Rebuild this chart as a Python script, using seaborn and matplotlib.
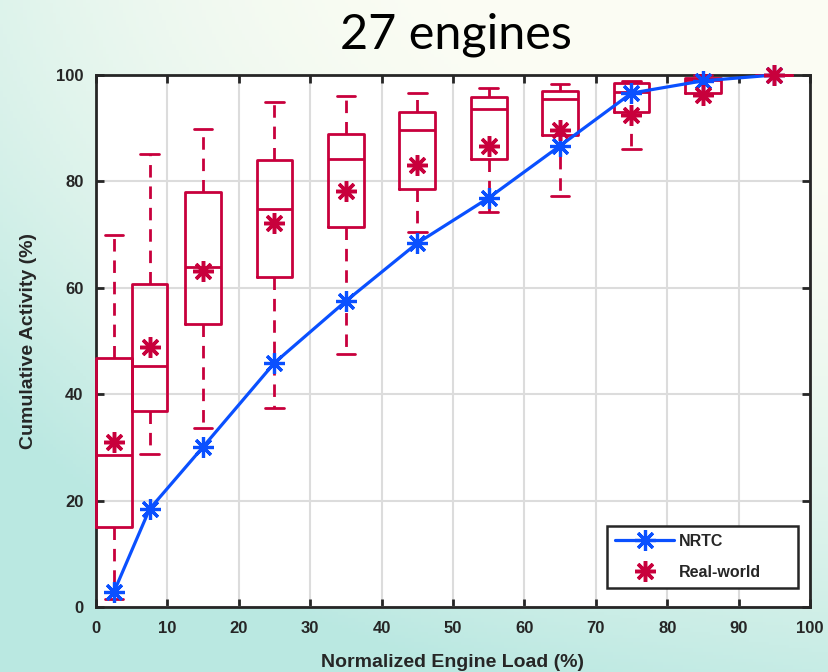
import numpy as np
import pandas as pd
import matplotlib
matplotlib.use("Agg")
import matplotlib.pyplot as plt
import seaborn as sns

# ---------------- data ----------------
loads = [2.5, 7.5, 15, 25, 35, 45, 55, 65, 75, 85, 95]
nrtc = [2.8, 18.4, 30.1, 45.9, 57.5, 68.4, 76.9, 86.7, 96.6, 98.9, 100.0]
rw_whishi = [70.0, 85.2, 89.8, 94.9, 96.0, 96.6, 97.6, 98.3, 98.9, 100.0, 100.0]
rw_q3 = [46.8, 60.7, 78.0, 84.0, 88.9, 93.0, 95.9, 97.0, 98.5, 99.4, 100.0]
rw_median = [28.5, 45.3, 63.9, 74.8, 84.2, 89.7, 93.6, 95.5, 96.8, 99.1, 100.0]
rw_q1 = [15.1, 36.8, 53.2, 62.0, 71.4, 78.6, 84.2, 88.7, 93.0, 96.6, 100.0]
rw_whislo = [1.5, 28.8, 33.6, 37.4, 47.6, 70.5, 74.2, 77.3, 86.1, 96.4, 100.0]
rw_mean = [31.0, 48.9, 63.2, 72.2, 78.2, 83.1, 86.7, 89.7, 92.5, 96.3, 100.0]
x_ticks = list(range(0, 101, 10))
y_ticks = list(range(0, 101, 20))

RED = "#C8003C"
BLUE = "#0A50FF"
INK = "#262626"

sns.set_style("ticks")
plt.rcParams["font.family"] = ["Liberation Sans", "DejaVu Sans"]

fig = plt.figure(figsize=(8.29, 6.72), dpi=100)

# background gradient
h, w = 200, 250
u = np.linspace(0, 1, w)[None, :]
v = np.linspace(0, 1, h)[:, None]
t = np.clip(0.5 * (1 - u) ** 3 + 0.85 * v ** 2 - 0.05 + 0.35 * (1 - u) * v, 0, 1)
light = np.array([0.985, 0.99, 0.955])
teal = np.array([0.73, 0.91, 0.885])
img = light[None, None, :] * (1 - t[..., None]) + teal[None, None, :] * t[..., None]
bg = fig.add_axes([0, 0, 1, 1], zorder=-10)
bg.imshow(img, aspect="auto", extent=[0, 1, 0, 1], origin="upper")
bg.axis("off")

ax = fig.add_axes([96 / 829, 1 - 607 / 672, (810 - 96) / 829, (607 - 75) / 672])
ax.set_facecolor("white")

stats = []
for i in range(len(loads)):
    stats.append(dict(med=rw_median[i], q1=rw_q1[i], q3=rw_q3[i],
                      whislo=rw_whislo[i], whishi=rw_whishi[i], fliers=[]))
parts = ax.bxp(stats, positions=loads, widths=5.0, capwidths=2.6, showfliers=False,
               boxprops=dict(color=RED, lw=2.0),
               medianprops=dict(color=RED, lw=2.0),
               whiskerprops=dict(color=RED, lw=2.0, linestyle=(0, (4.5, 3.2))),
               capprops=dict(color=RED, lw=2.0), manage_ticks=False)
for key in ("boxes", "medians", "whiskers", "caps"):
    for art in parts[key]:
        art.set_clip_on(False)
        art.set_zorder(3)

star = (8, 2, 0)
df_n = pd.DataFrame({"load": loads, "val": nrtc})
sns.lineplot(data=df_n, x="load", y="val", ax=ax, color=BLUE, lw=2.3,
             marker=star, markersize=15, mew=2.3, mec=BLUE, label="NRTC", zorder=4,
             clip_on=False)
df_r = pd.DataFrame({"load": loads, "val": rw_mean})
sns.lineplot(data=df_r, x="load", y="val", ax=ax, color=RED, linestyle="none",
             marker=star, markersize=15, mew=2.5, mec=RED, label="Real-world", zorder=5,
             clip_on=False)

ax.set_xlim(0, 100)
ax.set_ylim(0, 100)
ax.set_xticks(x_ticks)
ax.set_yticks(y_ticks)
ax.grid(True, color="#dcdcdc", lw=1.5)
ax.set_axisbelow(True)
for s in ax.spines.values():
    s.set_visible(True)
    s.set_color(INK)
    s.set_linewidth(2)
    s.set_zorder(2.5)
ax.tick_params(direction="in", top=True, right=True, length=6, width=2,
               colors=INK, labelsize=12)
ax.tick_params(axis="x", pad=10)
ax.tick_params(axis="y", pad=9)
for lab in ax.get_xticklabels() + ax.get_yticklabels():
    lab.set_fontweight("bold")
ax.set_xlabel("Normalized Engine Load (%)", fontsize=14, fontweight="bold",
              color=INK, labelpad=13)
ax.set_ylabel("Cumulative Activity (%)", fontsize=14, fontweight="bold",
              color=INK, labelpad=14)

x0 = (607 - 96) / 714
wl = (798 - 607) / 714
y0 = (607 - 588) / 532
hl = (588 - 523) / 532
leg = ax.legend(loc="lower left", bbox_to_anchor=(x0, y0, wl, hl), mode="expand",
                frameon=True, fancybox=False, edgecolor=INK, handlelength=3.7,
                handletextpad=0.3, prop=dict(weight="bold", size=11.5),
                borderpad=0.5, labelspacing=1.0, borderaxespad=0)
leg.get_frame().set_linewidth(1.8)
leg.get_frame().set_alpha(1)
leg.set_zorder(10)

fig.text(0.55, 0.948, "27 engines", ha="center", va="center", fontsize=35,
         family=["Lato", "DejaVu Sans"], color="black")

fig.savefig("out.png", dpi=100)
